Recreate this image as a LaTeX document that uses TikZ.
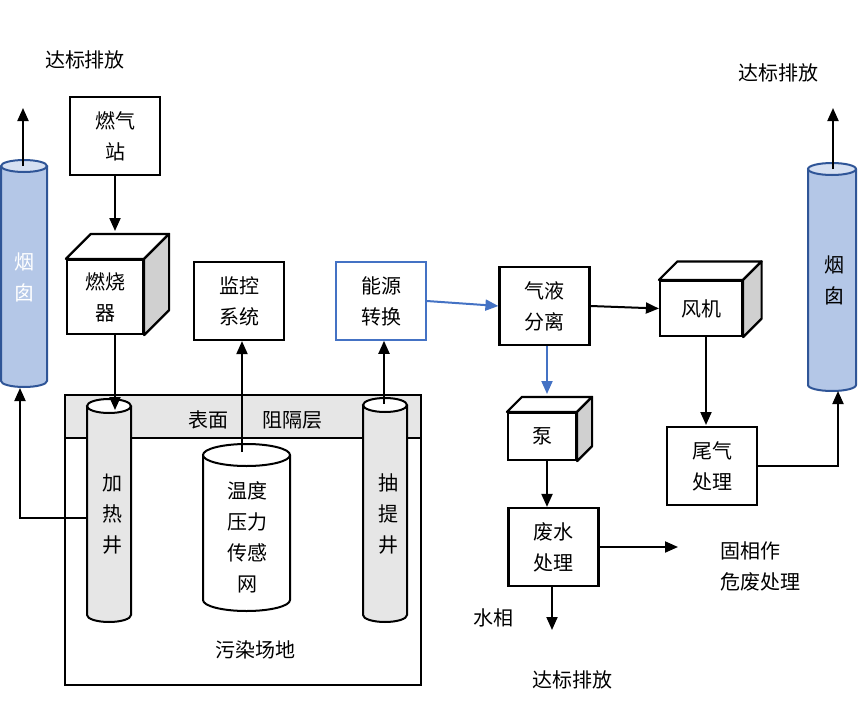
\documentclass[tikz,border=0pt]{standalone}
\usepackage{fontspec}
\setmainfont{Noto Sans CJK SC}
\usetikzlibrary{arrows.meta,calc}
\definecolor{chimfill}{HTML}{B4C7E7}
\definecolor{chimtop}{HTML}{D6E0F2}
\definecolor{chimline}{HTML}{2F5597}
\definecolor{flowblue}{HTML}{4472C4}
\definecolor{wellgray}{HTML}{E6E6E6}
\definecolor{cubegray}{HTML}{D0D0D0}
\tikzset{
  every node/.style={font=\fontsize{20}{31}\selectfont, align=center, inner sep=0pt},
  box/.style={draw, line width=2.2pt, fill=white, minimum width=90pt, minimum height=78pt},
  flow/.style={line width=2pt, -{Triangle[length=13pt,width=11pt]}},
  blueflow/.style={flow, color=flowblue},
}
% tube: line style, body fill, top fill, left x, right x, top y, bottom y, y radius
\def\tube[#1][#2][#3](#4,#5,#6,#7,#8){
  \fill[#2] (#4,#6) rectangle (#5,#7);
  \fill[#2] ({(#4+#5)/2},#7) ellipse ({(#5-#4)/2} and #8);
  \draw[#1] (#4,#6) -- (#4,#7) arc[start angle=180, end angle=0, x radius={(#5-#4)/2}, y radius=#8] -- (#5,#6);
  \draw[#1, fill=#3] ({(#4+#5)/2},#6) ellipse ({(#5-#4)/2} and #8);
}
% cube: front node, depth
\def\cubeback(#1)(#2){
  \draw[line width=2.2pt, fill=white, line join=round] (#1.north west) -- ++(#2,-#2) -- ($(#1.north east)+(#2,-#2)$) -- (#1.north east) -- cycle;
  \draw[line width=2.2pt, fill=cubegray, line join=round] (#1.north east) -- ++(#2,-#2) -- ($(#1.south east)+(#2,-#2)$) -- (#1.south east) -- cycle;
}

\begin{document}
\begin{tikzpicture}[x=1pt,y=-1pt]
  \useasboundingbox (0,0) rectangle (865,704);

  %%%%% SITE %%%%%
  \draw[line width=2.2pt] (65,395) rectangle (421,685);
  \node (site) at (255,650) {污染场地};
  \draw[line width=2.2pt, fill=wellgray] (65,395) rectangle (421,438);
  \node (surface) at (208,420) {表面};
  \node (barrier) at (292,420) {阻隔层};

  \tube[line width=2pt][wellgray][white](87,131,406,615,7)
  \tube[line width=2pt][white][white](203,290,455,600,11)
  \tube[line width=2pt][wellgray][white](363,407,405,615,7)
  \node (heatwell) at (112,514) {加\\热\\井};
  \node (sensor) at (247,537) {温度\\压力\\传感\\网};
  \node (extract) at (388,514) {抽\\提\\井};
  \coordinate (heattop) at (115,410);
  \coordinate (heatside) at (87,518);
  \coordinate (sensortop) at (242,452);
  \coordinate (extracttop) at (384,404);

  %%%%% CHIMNEYS %%%%%
  \tube[line width=2pt, draw=chimline][chimfill][chimtop](1,47,166,381,6)
  \tube[line width=2pt, draw=chimline][chimfill][chimtop](808,856,169,385,6)
  \node[text=white] (chimL) at (24,277) {烟\\囱};
  \node (chimR) at (834,280) {烟\\囱};
  \coordinate (chimLtop) at (23,166);
  \coordinate (chimLbot) at (20,388);
  \coordinate (chimRtop) at (833,169);
  \coordinate (chimRbot) at (838,391);
  \coordinate (ventL) at (23,108);
  \coordinate (ventR) at (833,108);
  \node (outL) at (85,60) {达标排放};
  \node (outR) at (778,73) {达标排放};

  %%%%% LEFT BOXES %%%%%
  \node[box] (gas) at (115,136) {燃气\\站};
  \node[box, minimum width=76pt, minimum height=74pt] (burner) at (105,297) {燃烧\\器};
  \cubeback(burner)(25)
  \coordinate (burnerin) at (115,231);
  \node[box] (monitor) at (239,301) {监控\\系统};
  \node[box, draw=flowblue, line width=1.6pt] (energy) at (381,301) {能源\\转换};

  %%%%% RIGHT BOXES %%%%%
  \node[box] (gasliq) at (544.5,306) {气液\\分离};
  \node[box, minimum width=82pt, minimum height=55pt] (fan) at (701,308.5) {风机};
  \cubeback(fan)(18.5)
  \node[box, minimum width=68pt, minimum height=47pt] (pump) at (542,436.5) {泵};
  \cubeback(pump)(15)
  \coordinate (pumpin) at (547,394);
  \node[box] (tail) at (712,466) {尾气\\处理};
  \coordinate (tailin) at (706,425);
  \node[box] (waste) at (553.5,547) {废水\\处理};
  \coordinate (solidin) at (678,547);
  \coordinate (waterout) at (552,630);
  \node[anchor=west, align=left] (solid) at (720,566) {固相作\\危废处理};
  \node (water) at (493,618) {水相};
  \node (outW) at (572,680) {达标排放};

  %%%%% FLOWS %%%%%
  \draw[flow] (chimLtop) -- (ventL);
  \draw[flow] (chimRtop) -- (ventR);
  \draw[flow] (gas.south -| burnerin) -- (burnerin);
  \draw[flow] (burner.south -| heattop) -- (heattop);
  \draw[flow] (sensortop) -- (sensortop |- monitor.south);
  \draw[flow] (extracttop) -- (extracttop |- energy.south);
  \draw[flow] (heatside) -| (chimLbot);
  \draw[blueflow] (energy.east) -- (gasliq.west);
  \draw[flow] (gasliq.east) -- (fan.west);
  \draw[blueflow] (gasliq.south -| pumpin) -- (pumpin);
  \draw[flow] (pump.south -| pumpin) -- (pumpin |- waste.north);
  \draw[flow] (fan.south -| tailin) -- (tailin);
  \draw[flow] (tail.east) -| (chimRbot);
  \draw[flow] (waste.east) -- (solidin);
  \draw[flow] (waste.south -| waterout) -- (waterout);

\end{tikzpicture}
\end{document}
